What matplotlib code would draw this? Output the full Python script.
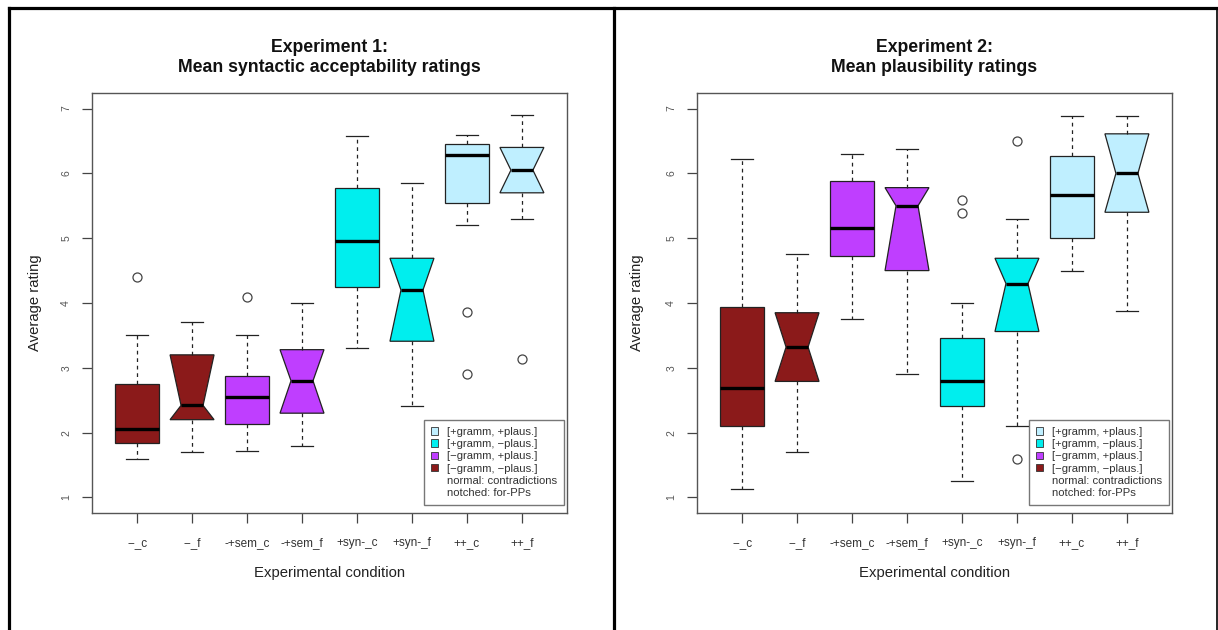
import numpy as np
import matplotlib
matplotlib.use("Agg")
import matplotlib.pyplot as plt
from matplotlib.patches import Patch
from matplotlib.lines import Line2D

plt.rcParams['font.family'] = ['Liberation Sans', 'DejaVu Sans']

# conditions and groups
conditions = ['--_c', '--_f', '-+sem_c', '-+sem_f', '+syn-_c', '+syn-_f', '++_c', '++_f']
notched = [False, True, False, True, False, True, False, True]
group_colors = ['#8B1A1A', '#8B1A1A', '#BF3EFF', '#BF3EFF', '#00EEEE', '#00EEEE', '#BFEFFF', '#BFEFFF']
legend_labels = ['[+gramm, +plaus.]', '[+gramm, \u2212plaus.]', '[\u2212gramm, +plaus.]', '[\u2212gramm, \u2212plaus.]']
legend_colors = ['#BFEFFF', '#00EEEE', '#BF3EFF', '#8B1A1A']
legend_notes = ['normal: contradictions', 'notched: for-PPs']

# Experiment 1: syntactic acceptability
whislo1 = [1.60, 1.70, 1.71, 1.80, 3.30, 2.41, 5.20, 5.30]
q1_1 = [1.835, 2.20, 2.14, 2.30, 4.245, 3.41, 5.55, 5.70]
med1 = [2.05, 2.42, 2.55, 2.80, 4.95, 4.20, 6.28, 6.05]
q3_1 = [2.75, 3.20, 2.88, 3.28, 5.78, 4.69, 6.46, 6.40]
whishi1 = [3.50, 3.70, 3.50, 4.00, 6.57, 5.85, 6.59, 6.90]
fliers1 = [[4.40], [], [4.10], [], [], [], [3.86, 2.90], [3.14]]

# Experiment 2: plausibility
whislo2 = [1.13, 1.70, 3.75, 2.90, 1.25, 2.10, 4.50, 3.87]
q1_2 = [2.10, 2.79, 4.72, 4.50, 2.41, 3.56, 5.00, 5.40]
med2 = [2.69, 3.32, 5.15, 5.50, 2.79, 4.30, 5.66, 6.00]
q3_2 = [3.94, 3.85, 5.89, 5.78, 3.46, 4.69, 6.27, 6.61]
whishi2 = [6.22, 4.75, 6.30, 6.37, 4.00, 5.30, 6.88, 6.88]
fliers2 = [[], [], [], [], [5.59, 5.39], [6.50, 1.60], [], []]

W, H = 1218, 630
fig = plt.figure(figsize=(W/100, H/100), dpi=100)
fig.patch.set_facecolor('white')

def px_axes(x0, y0, x1, y1):
  return fig.add_axes([x0/W, 1-y1/H, (x1-x0)/W, (y1-y0)/H])

def draw_panel(ax, whislo, q1, med, q3, whishi, fliers):
  for want_notch in (False, True):
    idx = [i for i in range(len(conditions)) if notched[i] == want_notch]
    stats = []
    for i in idx:
      stats.append(dict(med=med[i], q1=q1[i], q3=q3[i], whislo=whislo[i], whishi=whishi[i],
                        fliers=fliers[i], cilo=q1[i], cihi=q3[i]))
    bp = ax.bxp(stats, positions=[i+1 for i in idx], widths=0.8, shownotches=want_notch,
                patch_artist=True, manage_ticks=False,
                boxprops=dict(edgecolor='#222222', linewidth=0.9),
                whiskerprops=dict(color='#222222', linewidth=0.9, linestyle=(0, (3, 3))),
                capprops=dict(color='#222222', linewidth=0.9),
                medianprops=dict(color='black', linewidth=2.4),
                flierprops=dict(marker='o', markerfacecolor='none', markeredgecolor='#444444',
                                markersize=6.5, markeredgewidth=0.9))
    for patch, i in zip(bp['boxes'], idx):
      patch.set_facecolor(group_colors[i])
  ax.set_xlim(0.18, 8.82)
  ax.set_ylim(0.76, 7.24)
  ax.set_xticks(range(1, 9))
  ax.set_xticklabels(conditions)
  ax.set_yticks(range(1, 8))
  ax.tick_params(axis='x', length=7, width=0.9, color='#444444', pad=10, labelsize=8.5, labelcolor='#333333')
  ax.tick_params(axis='y', length=7, width=0.9, color='#444444', pad=8, labelsize=7.5, labelcolor='#555555')
  for lab in ax.get_yticklabels():
    lab.set_rotation(90)
    lab.set_va('center')
  for sp in ax.spines.values():
    sp.set_color('#555555')
    sp.set_linewidth(1.0)
  handles = [Patch(facecolor=c, edgecolor='#333333', linewidth=0.6) for c in legend_colors]
  handles += [Patch(facecolor='none', edgecolor='none') for _ in legend_notes]
  leg = ax.legend(handles, legend_labels + legend_notes, loc='lower right',
                  bbox_to_anchor=(0.994, 0.019), fontsize=8.1, frameon=True, fancybox=False,
                  handlelength=0.65, handleheight=0.65, handletextpad=0.8, labelspacing=0.2,
                  borderpad=0.62, borderaxespad=0.0)
  leg.get_frame().set_edgecolor('#555555')
  leg.get_frame().set_linewidth(1.0)
  for t in leg.get_texts():
    t.set_color('#333333')

ax1 = px_axes(92, 93, 567, 513)
draw_panel(ax1, whislo1, q1_1, med1, q3_1, whishi1, fliers1)
ax2 = px_axes(697, 93, 1172, 513)
draw_panel(ax2, whislo2, q1_2, med2, q3_2, whishi2, fliers2)

# titles and axis labels
for cx, ylx, title2, exp in [(329.5, 35, 'Mean syntactic acceptability ratings', 'Experiment 1:'),
                             (934.5, 637, 'Mean plausibility ratings', 'Experiment 2:')]:
  fig.text(cx/W, 1-48/H, exp, ha='center', va='center', fontsize=12.7, fontweight='bold', color='#111111')
  fig.text(cx/W, 1-68/H, title2, ha='center', va='center', fontsize=12.7, fontweight='bold', color='#111111')
  fig.text(cx/W, 1-573/H, 'Experimental condition', ha='center', va='center', fontsize=10.7, color='#222222')
  fig.text(ylx/W, 1-303/H, 'Average rating', ha='center', va='center', rotation=90, fontsize=10.7, color='#222222')

# outer frame and divider
frame_kw = dict(color='black', linewidth=2.3, transform=fig.transFigure)
fig.add_artist(Line2D([8.5/W, 1217/W], [1-7.5/H, 1-7.5/H], **frame_kw))
fig.add_artist(Line2D([8.5/W, 8.5/W], [1-7.5/H, 0], **frame_kw))
fig.add_artist(Line2D([613.5/W, 613.5/W], [1-7.5/H, 0], **frame_kw))
fig.add_artist(Line2D([1217/W, 1217/W], [1-7.5/H, 0], color='black', linewidth=1.2, transform=fig.transFigure))

fig.savefig('out.png', dpi=100)
